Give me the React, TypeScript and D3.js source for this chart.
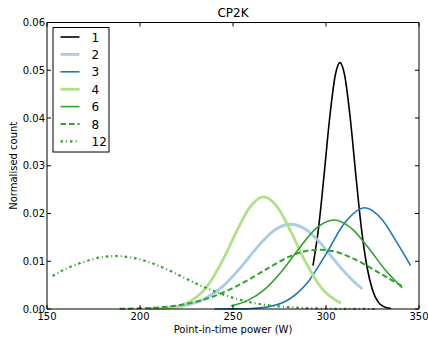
import React, { useEffect, useRef } from "react";
import * as d3 from "d3";

// point-in-time power (W) and normalised count
const power1 = [293, 296, 299, 302, 305, 307.5, 310, 313, 316, 319, 322, 325, 328, 331, 335];
const count1 = [0.0091, 0.017, 0.0282, 0.0401, 0.049, 0.0516, 0.049, 0.0401, 0.0282, 0.017, 0.0089, 0.004, 0.0015, 0.0005, 0.0001];

const power2 = [205, 215, 225, 235, 245, 255, 265, 273, 281, 289, 297, 305, 313, 319.5];
const count2 = [0.00006, 0.00024, 0.0008, 0.0022, 0.0049, 0.0091, 0.0138, 0.0167, 0.01775, 0.0167, 0.0138, 0.01, 0.0065, 0.0042];

const power3 = [240, 250, 260, 270, 280, 290, 300, 310, 320.8, 330, 338, 345.5];
const count3 = [0.0, 0.00002, 0.00011, 0.00055, 0.002, 0.0055, 0.0115, 0.018, 0.0212, 0.0188, 0.014, 0.0091];

const power4 = [205, 215, 225, 235, 245, 252, 259, 266.5, 274, 281, 288, 298, 308];
const count4 = [0.00003, 0.00024, 0.0012, 0.0042, 0.0106, 0.0163, 0.0213, 0.0235, 0.0213, 0.0163, 0.0106, 0.0042, 0.0012];

const power6 = [249, 258, 267, 276, 285, 295, 304.3, 314, 323, 332, 341];
const count6 = [0.00066, 0.0018, 0.0041, 0.0078, 0.0124, 0.017, 0.01865, 0.0168, 0.0127, 0.0081, 0.0044];

const power8 = [189, 200, 210, 220, 230, 240, 250, 260, 270, 280, 290, 296.5, 305, 315, 325, 335, 341.4];
const count8 = [0.00005, 0.00014, 0.00034, 0.00074, 0.0015, 0.0027, 0.0044, 0.0065, 0.0088, 0.0109, 0.0122, 0.0124, 0.012, 0.0105, 0.0084, 0.0061, 0.0047];

const power12 = [153, 160, 170, 180, 187, 195, 205, 215, 225, 235, 245, 255, 265, 275, 285, 295, 305, 315, 327];
const count12 = [0.0069, 0.0084, 0.0099, 0.0109, 0.0111, 0.0108, 0.0098, 0.0082, 0.0063, 0.0045, 0.003, 0.0018, 0.001, 0.00055, 0.00027, 0.00012, 0.00005, 0.00002, 0.0];

const xTicks = [150, 200, 250, 300, 350];
const yTicks = [0, 0.01, 0.02, 0.03, 0.04, 0.05, 0.06];

interface Series {
  label: string;
  xs: number[];
  ys: number[];
  color: string;
  width: number;
  dash: string | null;
}

const series: Series[] = [
  { label: "1", xs: power1, ys: count1, color: "#000000", width: 1.6, dash: null },
  { label: "2", xs: power2, ys: count2, color: "#a6cee3", width: 2.8, dash: null },
  { label: "3", xs: power3, ys: count3, color: "#1f78b4", width: 1.6, dash: null },
  { label: "4", xs: power4, ys: count4, color: "#b2df8a", width: 2.8, dash: null },
  { label: "6", xs: power6, ys: count6, color: "#33a02c", width: 1.6, dash: null },
  { label: "8", xs: power8, ys: count8, color: "#33a02c", width: 2, dash: "5.5,3" },
  { label: "12", xs: power12, ys: count12, color: "#33a02c", width: 2.2, dash: "2.5,3,1,3" },
];

const App: React.FC = () => {
  const svgRef = useRef<SVGSVGElement | null>(null);

  useEffect(() => {
    const width = 428;
    const height = 339;
    const left = 47;
    const right = 419;
    const top = 22.5;
    const bottom = 309;
    const font = "'DejaVu Sans', sans-serif";

    const x = d3.scaleLinear().domain([150, 350]).range([left, right]);
    const y = d3.scaleLinear().domain([0, 0.06]).range([bottom, top]);

    const svg = d3.select(svgRef.current);
    svg.selectAll("*").remove();
    svg.attr("width", width).attr("height", height);

    svg.append("rect").attr("width", width).attr("height", height).attr("fill", "#fff");

    const line = d3
      .line<[number, number]>()
      .x((d) => x(d[0]))
      .y((d) => y(d[1]))
      .curve(d3.curveMonotoneX);

    series.forEach((s) => {
      const pts = s.xs.map((v, i) => [v, s.ys[i]] as [number, number]);
      svg
        .append("path")
        .attr("d", line(pts) as string)
        .attr("fill", "none")
        .attr("stroke", s.color)
        .attr("stroke-width", s.width)
        .attr("stroke-dasharray", s.dash)
        .attr("stroke-linejoin", "round");
    });

    // frame
    const frame = svg.append("g").attr("stroke", "#000").attr("stroke-width", 1);
    frame.append("line").attr("x1", left).attr("x2", left).attr("y1", top).attr("y2", bottom);
    frame.append("line").attr("x1", right).attr("x2", right).attr("y1", top).attr("y2", bottom);
    frame.append("line").attr("x1", left).attr("x2", right).attr("y1", top).attr("y2", top);
    frame.append("line").attr("x1", left).attr("x2", right).attr("y1", bottom).attr("y2", bottom);

    // ticks point inward on all four sides
    xTicks.forEach((t) => {
      frame.append("line").attr("x1", x(t)).attr("x2", x(t)).attr("y1", bottom).attr("y2", bottom - 4);
      frame.append("line").attr("x1", x(t)).attr("x2", x(t)).attr("y1", top).attr("y2", top + 4);
    });
    yTicks.forEach((t) => {
      frame.append("line").attr("x1", left).attr("x2", left + 4).attr("y1", y(t)).attr("y2", y(t));
      frame.append("line").attr("x1", right).attr("x2", right - 4).attr("y1", y(t)).attr("y2", y(t));
    });

    svg
      .append("g")
      .selectAll("text")
      .data(xTicks)
      .enter()
      .append("text")
      .attr("x", (d) => x(d))
      .attr("y", bottom + 11)
      .attr("text-anchor", "middle")
      .style("font-family", font)
      .style("font-size", "10px")
      .text((d) => d);

    svg
      .append("g")
      .selectAll("text")
      .data(yTicks)
      .enter()
      .append("text")
      .attr("x", left - 2)
      .attr("y", (d) => y(d) + 3.5)
      .attr("text-anchor", "end")
      .style("font-family", font)
      .style("font-size", "10px")
      .text((d) => d.toFixed(2));

    svg
      .append("text")
      .attr("x", (left + right) / 2)
      .attr("y", 17)
      .attr("text-anchor", "middle")
      .style("font-family", font)
      .style("font-size", "12px")
      .text("CP2K");

    svg
      .append("text")
      .attr("x", (left + right) / 2)
      .attr("y", 333)
      .attr("text-anchor", "middle")
      .style("font-family", font)
      .style("font-size", "10px")
      .text("Point-in-time power (W)");

    svg
      .append("text")
      .attr("transform", `translate(16.5, ${(top + bottom) / 2}) rotate(-90)`)
      .attr("text-anchor", "middle")
      .style("font-family", font)
      .style("font-size", "10px")
      .text("Normalised count");

    // legend
    const legend = svg.append("g").attr("transform", "translate(53, 27.5)");
    legend
      .append("rect")
      .attr("width", 56)
      .attr("height", 124.5)
      .attr("fill", "#fff")
      .attr("stroke", "#000")
      .attr("stroke-width", 1);

    series.forEach((s, i) => {
      const ly = 9.5 + i * 17.4;
      legend
        .append("line")
        .attr("x1", 7.5)
        .attr("x2", 26.5)
        .attr("y1", ly)
        .attr("y2", ly)
        .attr("stroke", s.color)
        .attr("stroke-width", s.width)
        .attr("stroke-dasharray", s.dash);
      legend
        .append("text")
        .attr("x", 38.5)
        .attr("y", ly + 4.5)
        .style("font-family", font)
        .style("font-size", "12px")
        .text(s.label);
    });
  }, []);

  return (
    <div style={{ position: "absolute", left: 0, top: 0 }}>
      <svg ref={svgRef} style={{ display: "block" }}></svg>
    </div>
  );
};

export default App;
